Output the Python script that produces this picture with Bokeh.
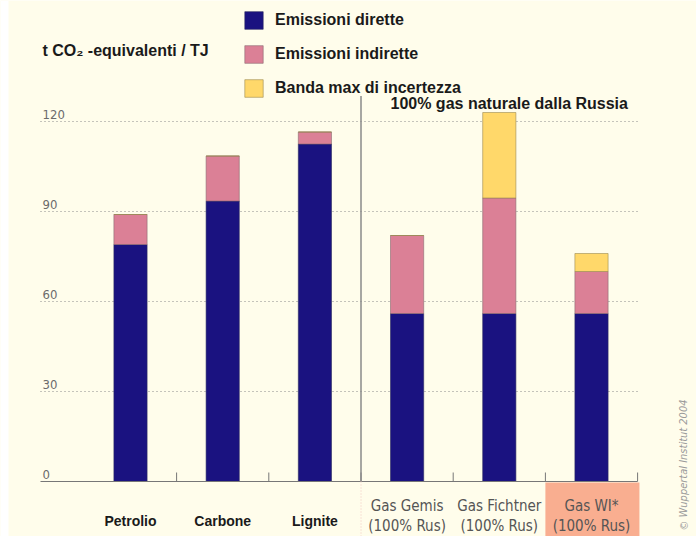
from bokeh.plotting import figure
from bokeh.models import Range1d, Label, Legend, LegendItem, ColumnDataSource
from bokeh.core.properties import value
from bokeh.embed import file_html
from bokeh.resources import INLINE

categories = ["Petrolio", "Carbone", "Lignite",
              "Gas Gemis\n(100% Rus)", "Gas Fichtner\n(100% Rus)", "Gas WI*\n(100% Rus)"]
dirette = [79, 93.5, 112.5, 56, 56, 56]
indirette = [10, 15, 4, 26, 38.5, 14]
incertezza = [0, 0, 0, 0, 28.5, 6]
y_ticks = [0, 30, 60, 90, 120]

BG = "#fffdeb"
NAVY = "#1a1280"
PINK = "#db8096"
YELLOW = "#ffd86a"
SALMON = "#f9ae90"
NARROW = "Liberation Sans Narrow, DejaVu Sans Condensed, Roboto Condensed, Liberation Sans"

W, H = 696, 536
step = 92.2          # px per category
x0px = 130           # px of first category centre
base_px = 481        # px of zero
ppu = 3.0            # px per unit

p = figure(width=W, height=H, output_backend="svg", toolbar_location=None,
           min_border=0, x_range=Range1d(-x0px / step, (W - x0px) / step),
           y_range=Range1d(-(H - base_px) / ppu, base_px / ppu))
p.axis.visible = False
p.grid.visible = False
p.outline_line_color = None
p.background_fill_color = BG
p.border_fill_color = BG

n = len(categories)
xs = list(range(n))
xl = -x0px / step
left_grid = (40 - x0px) / step
right_grid = (637 - x0px) / step
bottom = -(H - base_px) / ppu

# white strip at the left edge
p.quad(left=[xl], right=[(8 - x0px) / step], bottom=[bottom], top=[base_px / ppu],
       fill_color="white", line_color=None)

# salmon label background for the last category
p.quad(left=[n - 1 - 0.5], right=[n - 1 + 0.52], top=[-0.3], bottom=[bottom],
       fill_color=SALMON, line_color=None)

# dotted grid lines and tick labels
grid_y = [t for t in y_ticks if t > 0]
p.segment(x0=[left_grid] * len(grid_y), x1=[right_grid] * len(grid_y),
          y0=grid_y, y1=grid_y, line_color="#8a8a8a", line_dash="1 3", line_width=1.2)
p.text(x=[(42 - x0px) / step] * len(y_ticks), y=[t + 1.0 for t in y_ticks],
       text=[str(t) for t in y_ticks], text_font=value(NARROW),
       text_font_size="13px", text_color="#6b6b6b", text_baseline="bottom")

# stacked bars
src = ColumnDataSource(dict(
    x=xs, d=dirette,
    i_bot=dirette, i_top=[a + b for a, b in zip(dirette, indirette)],
    u_bot=[a + b for a, b in zip(dirette, indirette)],
    u_top=[a + b + c for a, b, c in zip(dirette, indirette, incertezza)],
))
bw = 0.36
r1 = p.vbar(x="x", bottom=0, top="d", width=bw, source=src,
            fill_color=NAVY, line_color="#2a2a60", line_width=0.6)
r2 = p.vbar(x="x", bottom="i_bot", top="i_top", width=bw, source=src,
            fill_color=PINK, line_color="#8a6a70", line_width=0.6)
r3 = p.vbar(x="x", bottom="u_bot", top="u_top", width=bw, source=src,
            fill_color=YELLOW, line_color="#9a8a50", line_width=0.6)

# baseline axis and category ticks
p.segment(x0=[left_grid], x1=[right_grid], y0=[0], y1=[0],
          line_color="#777777", line_width=1.2)
bounds = [k + 0.5 for k in range(n)]
p.segment(x0=bounds, x1=bounds, y0=[0] * n, y1=[3] * n,
          line_color="#777777", line_width=1)

# separator between fuels and gas
p.segment(x0=[2.5], x1=[2.5], y0=[0], y1=[128.5], line_color="#8a8a8a", line_width=1.5)
p.segment(x0=[2.5], x1=[2.5], y0=[0], y1=[bottom], line_color="#f0c8c0",
          line_width=1, line_dash="1 2")

# category labels
p.text(x=xs[:3], y=[-13] * 3, text=categories[:3], text_font=value("Liberation Sans"),
       text_font_style="bold", text_font_size="14px", text_color="#1a1a1a",
       text_align="center", text_baseline="middle")
p.text(x=xs[3:], y=[-11.5] * 3, text=categories[3:], text_font=value(NARROW),
       text_font_size="15px", text_color="#555555", text_align="center",
       text_baseline="middle", text_line_height=1.1)

# unit label, sub-title, credit
p.add_layout(Label(x=42, y=H - 50, x_units="screen", y_units="screen",
                   text="t CO₂ -equivalenti / TJ", text_font="Liberation Sans",
                   text_font_style="bold", text_font_size="16px", text_color="#1a1a1a",
                   text_baseline="middle"))
p.add_layout(Label(x=390, y=H - 103, x_units="screen", y_units="screen",
                   text="100% gas naturale dalla Russia", text_font="Liberation Sans",
                   text_font_style="bold", text_font_size="16px", text_color="#1a1a1a",
                   text_baseline="middle"))
p.add_layout(Label(x=690, y=H - 530, x_units="screen", y_units="screen",
                   text="© Wuppertal Institut 2004", angle=1.5708,
                   text_font=NARROW, text_font_style="italic",
                   text_font_size="11px", text_color="#9a9a9a", text_baseline="bottom"))

legend = Legend(items=[LegendItem(label="Emissioni dirette", renderers=[r1]),
                       LegendItem(label="Emissioni indirette", renderers=[r2]),
                       LegendItem(label="Banda max di incertezza", renderers=[r3])],
                location=(242, H - 99), glyph_width=23, glyph_height=22,
                label_standoff=10, spacing=12, padding=0, margin=0,
                border_line_color=None, background_fill_alpha=0,
                label_text_font="Liberation Sans", label_text_font_style="bold",
                label_text_font_size="16px", label_text_color="#1a1a1a")
p.add_layout(legend, "center")

open("out.html", "w").write(file_html(p, INLINE))
